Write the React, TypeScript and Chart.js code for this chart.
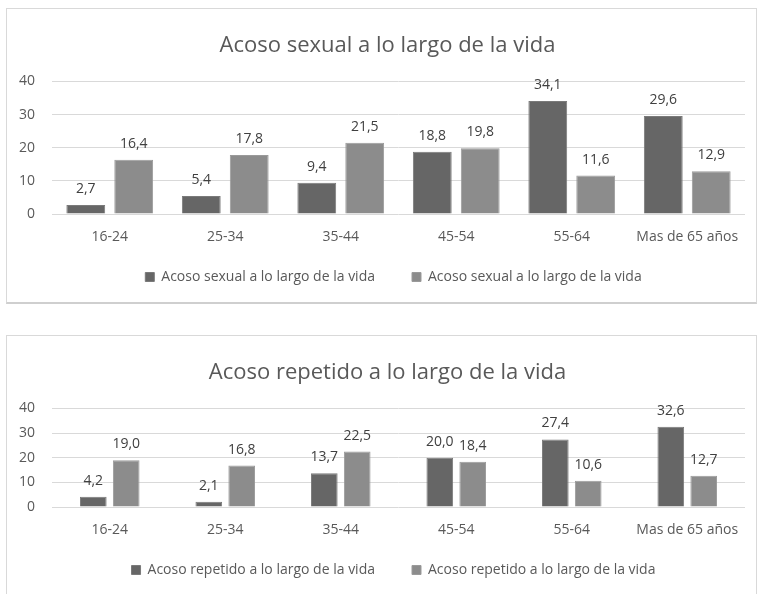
import React, { useEffect, useRef } from "react";
import { Chart, registerables } from "chart.js";

Chart.register(...registerables);

const categories = ["16-24", "25-34", "35-44", "45-54", "55-64", "Mas de 65 años"];
const yTicks = [0, 10, 20, 30, 40];

const sexualTitle = "Acoso sexual a lo largo de la vida";
const sexualSeriesA = [2.7, 5.4, 9.4, 18.8, 34.1, 29.6];
const sexualSeriesB = [16.4, 17.8, 21.5, 19.8, 11.6, 12.9];

const repetidoTitle = "Acoso repetido a lo largo de la vida";
const repetidoSeriesA = [4.2, 2.1, 13.7, 20.0, 27.4, 32.6];
const repetidoSeriesB = [19.0, 16.8, 22.5, 18.4, 10.6, 12.7];

const DARK = "#666666";
const LIGHT = "#8c8c8c";
const TEXT = "#595959";
const FONT = "'Open Sans', sans-serif";

const valueLabels = {
  id: "valueLabels",
  afterDatasetsDraw(chart: any) {
    const ctx = chart.ctx;
    ctx.save();
    ctx.fillStyle = "#404040";
    ctx.font = `14px ${FONT}`;
    ctx.textAlign = "center";
    ctx.textBaseline = "middle";
    chart.data.datasets.forEach((ds: any, di: number) => {
      const meta = chart.getDatasetMeta(di);
      meta.data.forEach((bar: any, i: number) => {
        const v = ds.data[i];
        ctx.fillText(v.toFixed(1).replace(".", ","), bar.x, bar.y - 16);
      });
    });
    ctx.restore();
  },
};

// keeps the wide horizontal legend spacing while letting the legend sit close to the axis
const legendPlacement = {
  id: "legendPlacement",
  beforeLayout(chart: any) {
    const L = chart.legend;
    if (L && !L.__wrapped) {
      const fit = L.fit.bind(L);
      L.fit = () => {
        fit();
        L.height = 40;
      };
      L.__wrapped = true;
    }
  },
  afterLayout(chart: any) {
    const L = chart.legend;
    if (L) {
      L.top = chart.chartArea.bottom + 19;
      L.bottom = chart.height;
      L.height = L.bottom - L.top;
      L.left += 12;
      L.right += 12;
    }
    const T = chart.titleBlock;
    if (T) {
      T.left += 6;
      T.right += 6;
    }
  },
};

function BarChart({
  title,
  a,
  b,
  height,
  catPct,
  bottomPad,
}: {
  title: string;
  a: number[];
  b: number[];
  height: number;
  catPct: number;
  bottomPad: number;
}) {
  const ref = useRef<HTMLCanvasElement>(null);
  useEffect(() => {
    if (!ref.current) return;
    const chart = new Chart(ref.current, {
      type: "bar",
      data: {
        labels: categories,
        datasets: [
          {
            label: title,
            data: a,
            backgroundColor: DARK,
            borderColor: "#7a7a7a",
            borderWidth: 1,
            barPercentage: 0.81,
            categoryPercentage: catPct,
          },
          {
            label: title,
            data: b,
            backgroundColor: LIGHT,
            borderColor: "#9a9a9a",
            borderWidth: 1,
            barPercentage: 0.81,
            categoryPercentage: catPct,
          },
        ],
      },
      options: {
        animation: false,
        responsive: false,
        maintainAspectRatio: false,
        layout: { padding: { left: 11, right: 9, top: 0, bottom: bottomPad } },
        plugins: {
          title: {
            display: true,
            text: title,
            color: TEXT,
            font: { family: FONT, size: 22, weight: "normal" },
            padding: { top: 24, bottom: 22 },
          },
          legend: {
            display: true,
            position: "bottom",
            labels: {
              color: TEXT,
              font: { family: FONT, size: 14 },
              boxWidth: 9,
              boxHeight: 9,
              padding: 37,
            },
          },
          tooltip: { enabled: false },
        },
        scales: {
          x: {
            grid: { display: false, drawTicks: false },
            border: { display: false },
            ticks: { color: TEXT, font: { family: FONT, size: 14 }, padding: 15, autoSkip: false, maxRotation: 0 },
            afterFit: (scale: any) => {
              scale.height = 34;
            },
          },
          y: {
            min: 0,
            max: 40,
            afterBuildTicks: (scale: any) => {
              scale.ticks = yTicks.map((v) => ({ value: v }));
            },
            afterFit: (scale: any) => {
              scale.width = 34;
            },
            grid: { color: "#d9d9d9", drawTicks: false, lineWidth: 1 },
            border: { display: false },
            ticks: { color: TEXT, font: { family: FONT, size: 14 }, padding: 17 },
          },
        },
      },
      plugins: [valueLabels, legendPlacement],
    });
    return () => chart.destroy();
  }, [title, a, b, catPct, bottomPad]);
  return <canvas ref={ref} width={747} height={height} style={{ display: "block" }} />;
}

export default function App() {
  return (
    <div style={{ position: "absolute", left: 0, top: 0, width: 757, height: 594, background: "#fff", overflow: "hidden" }}>
      <div
        style={{
          position: "absolute",
          left: 6,
          top: 8,
          width: 749,
          height: 293,
          border: "1px solid #d9d9d9",
          borderBottom: "2px solid #cfcfcf",
        }}
      >
        <BarChart title={sexualTitle} a={sexualSeriesA} b={sexualSeriesB} height={292} catPct={0.83} bottomPad={13} />
      </div>
      <div
        style={{
          position: "absolute",
          left: 6,
          top: 335,
          width: 749,
          height: 270,
          border: "1px solid #d9d9d9",
        }}
      >
        <BarChart title={repetidoTitle} a={repetidoSeriesA} b={repetidoSeriesB} height={257} catPct={0.57} bottomPad={12} />
      </div>
    </div>
  );
}
